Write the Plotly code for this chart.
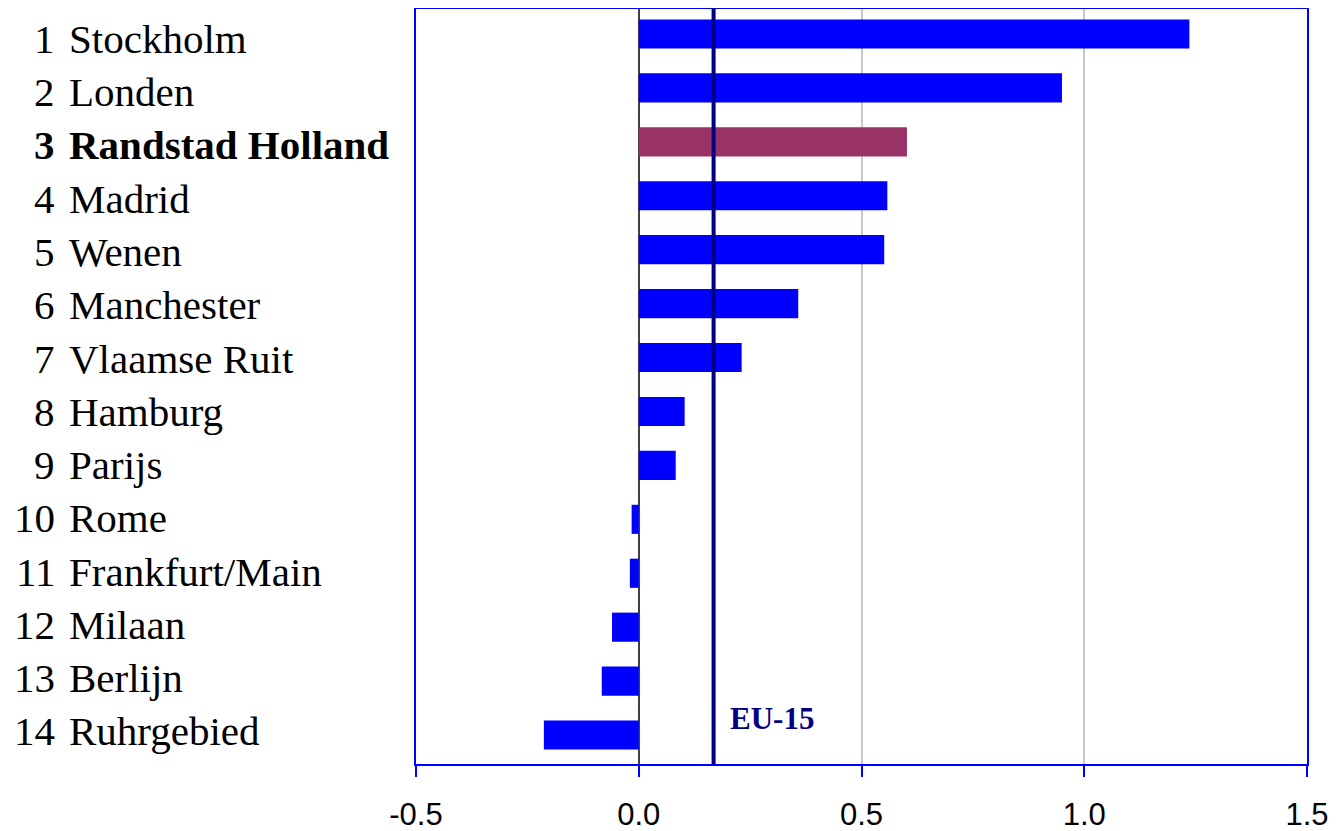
import plotly.graph_objects as go

ranks = ["1", "2", "3", "4", "5", "6", "7", "8", "9", "10", "11", "12", "13", "14"]
cities = ["Stockholm", "Londen", "Randstad Holland", "Madrid", "Wenen", "Manchester",
          "Vlaamse Ruit", "Hamburg", "Parijs", "Rome", "Frankfurt/Main", "Milaan",
          "Berlijn", "Ruhrgebied"]
values = [1.236, 0.95, 0.602, 0.558, 0.551, 0.358, 0.231, 0.103, 0.083,
          -0.016, -0.02, -0.06, -0.083, -0.213]
eu15 = 0.168
highlight = "Randstad Holland"
tick_vals = [-0.5, 0.0, 0.5, 1.0, 1.5]
tick_text = ["-0.5", "0.0", "0.5", "1.0", "1.5"]

colors = ["#993366" if c == highlight else "#0000FF" for c in cities]

fig = go.Figure()
fig.add_trace(go.Bar(
    x=values, y=list(range(len(cities))), orientation="h",
    marker=dict(color=colors, line=dict(width=0)),
    width=0.54, showlegend=False, hovertext=cities, hoverinfo="x+text",
))

fig.add_shape(type="line", xref="x", yref="paper", x0=eu15, x1=eu15, y0=0, y1=1.003,
              line=dict(color="#000080", width=4), layer="above")

fig.add_annotation(x=eu15, xref="x", y=0.06, yref="paper", text="<b>EU-15</b>",
                   showarrow=False, xanchor="left", yanchor="middle", xshift=14,
                   font=dict(family="Liberation Serif", size=31, color="#000080"))

for i, (r, c) in enumerate(zip(ranks, cities)):
    bold = c == highlight
    rt = f"<b>{r}</b>" if bold else r
    ct = f"<b>{c}</b>" if bold else c
    ys = -(5 - 0.67 * i)
    fig.add_annotation(x=0, xref="paper", y=i, yref="y", text=rt, showarrow=False,
                       xanchor="right", yanchor="middle", xshift=-359, yshift=ys,
                       font=dict(family="Liberation Serif", size=41, color="black"))
    fig.add_annotation(x=0, xref="paper", y=i, yref="y", text=ct, showarrow=False,
                       xanchor="left", yanchor="middle", xshift=-349, yshift=ys,
                       font=dict(family="Liberation Serif", size=41, color="black"))

fig.update_layout(
    width=1336, height=823,
    margin=dict(l=408, r=37, t=1, b=67),
    paper_bgcolor="white", plot_bgcolor="white",
    xaxis=dict(range=[-0.5, 1.5], tickvals=tick_vals, ticktext=tick_text,
               automargin=False,
               showgrid=True, gridcolor="#C8C8C8", gridwidth=2,
               zeroline=True, zerolinecolor="#404040", zerolinewidth=2,
               showline=True, linecolor="#0000FF", linewidth=2, mirror=True,
               ticks="outside", ticklen=11, tickwidth=2, tickcolor="#0000FF",
               ticklabelstandoff=11,
               tickfont=dict(family="Liberation Sans", size=31, color="black")),
    yaxis=dict(range=[13.537, -0.463], automargin=False,
               showticklabels=False, showgrid=False, zeroline=False,
               showline=True, linecolor="#0000FF", linewidth=2, mirror=True,
               ticks=""),
)

fig.write_html("out.html")
